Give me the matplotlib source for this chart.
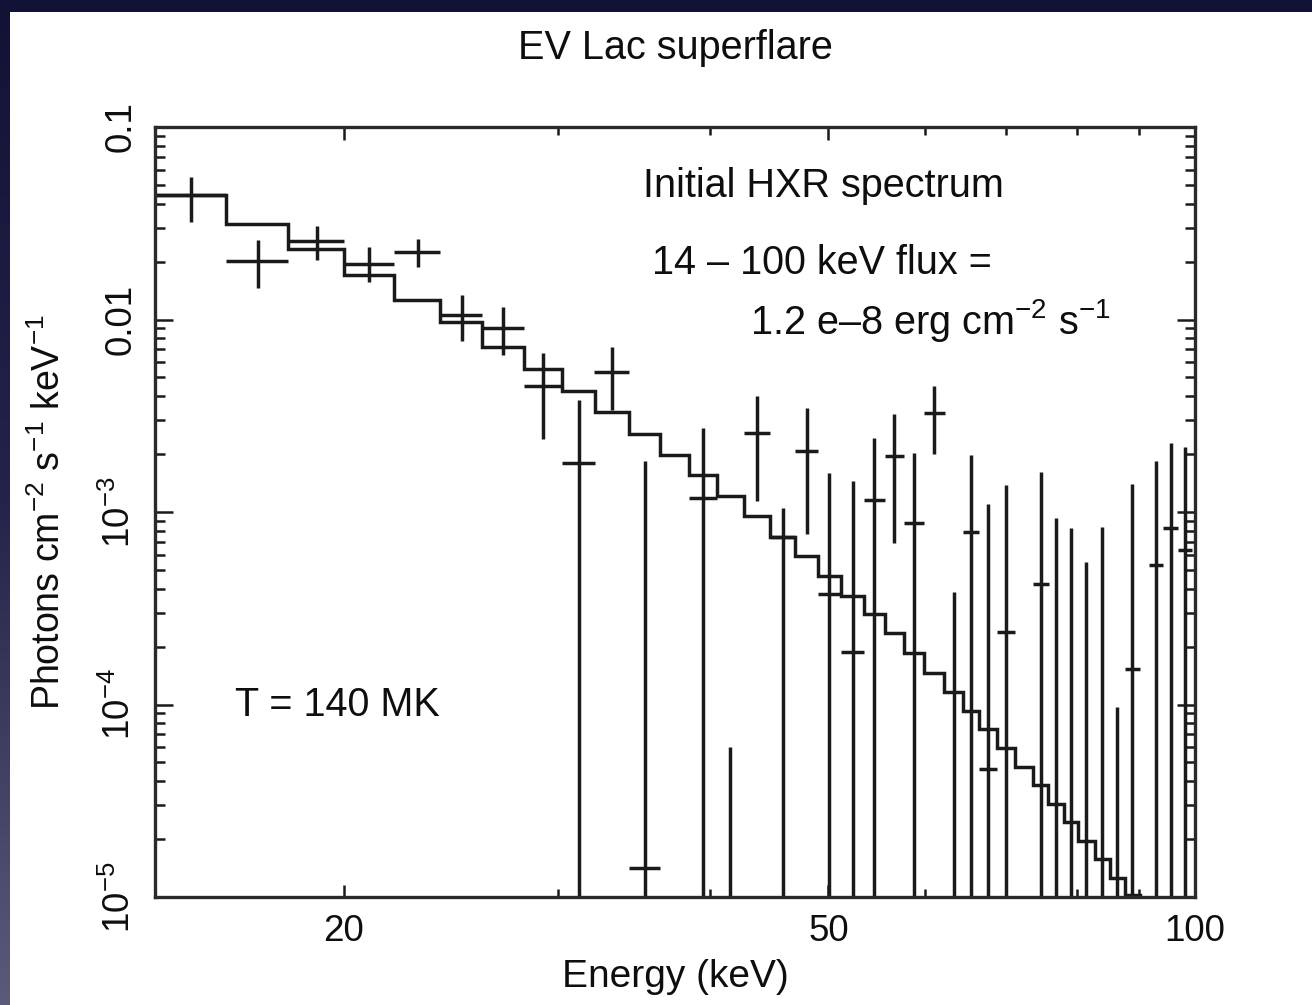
import numpy as np
import matplotlib
matplotlib.use("Agg")
import matplotlib.pyplot as plt
from matplotlib.patches import Rectangle
from matplotlib.colors import LinearSegmentedColormap
from matplotlib.ticker import FixedLocator, NullFormatter, LogLocator

plt.rcParams['font.family'] = ['Liberation Sans', 'DejaVu Sans']
plt.rcParams['mathtext.fontset'] = 'custom'
plt.rcParams['mathtext.rm'] = 'Liberation Sans'
plt.rcParams['mathtext.it'] = 'Liberation Sans:italic'
plt.rcParams['mathtext.bf'] = 'Liberation Sans:bold'

# ---- model spectrum (thermal fit), one value per energy bin ----
model_edges = [14.0, 16.0, 18.0, 20.0, 22.0, 24.0, 26.0, 28.1, 30.2, 32.15,
               34.3, 36.4, 38.4, 40.5, 42.6, 44.8, 46.95, 49.05, 51.2, 53.5,
               55.6, 57.7, 59.9, 62.25, 64.5, 66.5, 68.8, 71.2, 73.55, 75.8,
               78.0, 80.2, 82.7, 85.1, 87.55, 90.05, 92.6]
model_flux = [0.0443, 0.0313, 0.0232, 0.0170, 0.0126, 0.00970, 0.00720,
              0.00553, 0.00425, 0.00331, 0.00254, 0.00198, 0.00156, 0.00121,
              9.53e-4, 7.42e-4, 5.91e-4, 4.65e-4, 3.66e-4, 2.95e-4, 2.35e-4,
              1.85e-4, 1.46e-4, 1.16e-4, 9.25e-5, 7.46e-5, 5.94e-5, 4.73e-5,
              3.82e-5, 3.04e-5, 2.45e-5, 1.95e-5, 1.58e-5, 1.26e-5, 1.02e-5,
              8.4e-6]

# ---- measured spectrum: bin centre, half width, flux and 1-sigma range ----
# None = flux below the plotted range; 0 = lower bound at or below zero
data_energy = [15.0, 17.0, 19.0, 21.0, 23.0, 25.0, 27.05, 29.15, 31.2, 33.2,
               35.35, 39.45, 41.55, 43.7, 45.9, 48.0, 50.1, 52.35, 54.55,
               56.65, 58.8, 61.1, 63.4, 65.5, 67.65, 70.0, 74.7, 76.9, 79.1,
               81.45, 83.9, 86.3, 88.8, 92.9, 95.5, 98.1]
data_halfwidth = [1.0, 1.0, 1.0, 1.0, 1.0, 1.0, 1.05, 1.05, 0.98, 1.07,
                  1.05, 1.05, 1.05, 1.1, 1.08, 1.05, 1.08, 1.15, 1.05,
                  1.05, 1.1, 1.18, 1.12, 1.0, 1.15, 1.2, 1.13, 1.1, 1.1,
                  1.25, 1.2, 1.22, 1.25, 1.3, 1.3, 1.3]
data_flux = [0.0443, 0.0201, 0.0256, 0.0194, 0.0224, 0.01055, 0.00903,
             0.00451, 0.00180, 0.00534, 1.41e-5, 0.00118, None, 0.00257,
             7.4e-4, 0.00207, 3.75e-4, 1.87e-4, 0.00115, 0.00195, 8.8e-4,
             0.00327, None, 7.9e-4, 4.6e-5, 2.38e-4, 4.23e-4, None, None,
             None, None, None, 1.53e-4, 5.3e-4, 8.3e-4, 6.35e-4]
data_low = [0.0321, 0.0146, 0.0204, 0.0157, 0.0187, 0.00773, 0.00654,
            0.00239, 0, 0.00339, 0, 0, 0, 0.00114, 0, 7.7e-4, 0, 0, 0,
            6.9e-4, 0, 0.00200, 0, 0, 0, 0, 0, 0, 0, 0, 0, 0, 0, 0, 0, 0]
data_high = [0.0550, 0.0259, 0.0306, 0.0238, 0.0262, 0.0134, 0.0116,
             0.00670, 0.00382, 0.00720, 0.00184, 0.00273, 6.0e-5, 0.00401,
             0.00105, 0.00347, 0.00160, 0.00145, 0.00242, 0.00323, 0.00203,
             0.00451, 3.84e-4, 0.00198, 0.00110, 0.00138, 0.00161, 9.3e-4,
             8.3e-4, 5.5e-4, 8.4e-4, 9.7e-5, 0.00140, 0.00184, 0.00228,
             0.00218]

ytick_values = [1e-5, 1e-4, 1e-3, 1e-2, 1e-1]
ytick_labels = ['10$^{-5}$', '10$^{-4}$', '10$^{-3}$', '0.01', '0.1']
xtick_values = [20, 50, 100]
xtick_labels = ['20', '50', '100']

ink = '#1a1a1a'
txt_color = '#0e0e0e'
lw = 2.5

W, H = 1312, 1005
fig = plt.figure(figsize=(W / 100, H / 100), dpi=100)
fig.patch.set_facecolor('#16163b')

# slide backdrop: dark navy gradient with a white panel
bg = fig.add_axes([0, 0, 1, 1], zorder=-10)
bg_cmap = LinearSegmentedColormap.from_list('backdrop', ['#121237', '#24244a', '#5a5a7b'])
bg.imshow(np.linspace(0, 1, 256)[:, None], cmap=bg_cmap, aspect='auto',
          extent=[0, W, 0, H])
bg.add_patch(Rectangle((10, 0), W - 10, H - 12, facecolor='white', edgecolor='none'))
bg.set_xlim(0, W)
bg.set_ylim(0, H)
bg.axis('off')

ax = fig.add_axes([155 / W, 108 / H, 1040 / W, 770 / H])
ax.set_xscale('log')
ax.set_yscale('log')
ax.set_xlim(14, 100)
ax.set_ylim(1e-5, 0.1)

# model histogram
ax.stairs(model_flux, model_edges, baseline=None, color=ink, lw=lw)

# data crosses
e = np.array(data_energy)
de = np.array(data_halfwidth)
f = np.array([np.nan if v is None else v for v in data_flux], dtype=float)
lo = np.array(data_low, dtype=float)
hi = np.array(data_high, dtype=float)
lo_draw = np.where(lo > 0, lo, 1e-8)
ax.vlines(e, lo_draw, hi, color=ink, lw=lw)
shown = np.isfinite(f)
ax.hlines(f[shown], (e - de)[shown], (e + de)[shown], color=ink, lw=lw)

# axes frame and ticks
for sp in ax.spines.values():
    sp.set_linewidth(2.4)
    sp.set_color('#2a2a2a')

ax.xaxis.set_major_locator(FixedLocator(xtick_values))
ax.set_xticklabels(xtick_labels)
ax.xaxis.set_minor_locator(LogLocator(base=10, subs=np.arange(2, 10)))
ax.xaxis.set_minor_formatter(NullFormatter())
ax.yaxis.set_major_locator(FixedLocator(ytick_values))
ax.set_yticklabels(ytick_labels, rotation=90, va='center')
ax.yaxis.set_minor_locator(LogLocator(base=10, subs=np.arange(2, 10)))
ax.yaxis.set_minor_formatter(NullFormatter())

ax.tick_params(which='both', direction='in', top=True, right=True,
               color=ink, width=1.8, labelcolor=txt_color)
ax.tick_params(axis='y', which='major', length=13, pad=12, labelsize=26.5)
ax.tick_params(axis='y', which='minor', length=7)
ax.tick_params(axis='x', which='major', length=9, pad=12, labelsize=26.5)
ax.tick_params(axis='x', which='minor', length=6)

ax.set_xlabel('Energy (keV)', fontsize=28, color=txt_color)
ax.xaxis.set_label_coords(0.5, -0.08)
ax.set_ylabel('Photons cm$^{-2}$ s$^{-1}$ keV$^{-1}$', fontsize=27, color=txt_color)
ax.yaxis.set_label_coords(-0.084, 0.5)

fig.text(675 / W, 1 - 48 / H, 'EV Lac superflare', ha='center', va='center',
         fontsize=28.5, color=txt_color)

txt = dict(transform=ax.transAxes, ha='left', va='center', fontsize=28.5, color=txt_color)
ax.text(0.469, 0.924, 'Initial HXR spectrum', **txt)
ax.text(0.478, 0.824, '14 \u2013 100 keV flux =', **txt)
ax.text(0.572, 0.749, '1.2 e\u20138 erg cm$^{-2}$ s$^{-1}$', **txt)
ax.text(0.077, 0.249, 'T = 140 MK', **txt)

fig.savefig('out.png', dpi=100)
